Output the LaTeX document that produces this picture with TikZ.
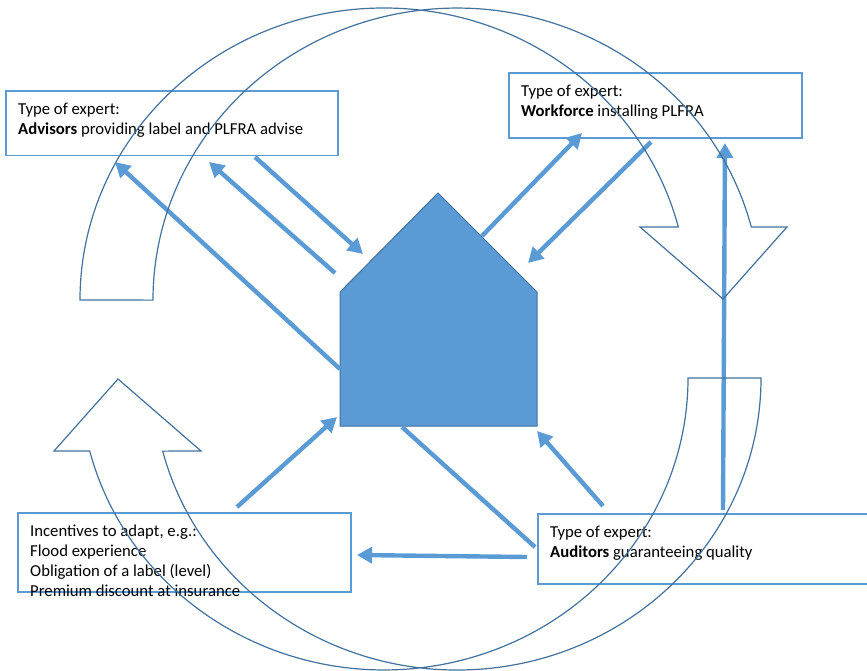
\documentclass[tikz,border=0pt]{standalone}
\usepackage{fontspec}
\setmainfont{Carlito}
\usetikzlibrary{arrows.meta}
\definecolor{flowblue}{HTML}{5B9BD5}
\definecolor{edgeblue}{HTML}{41719C}

\begin{document}
\begin{tikzpicture}[x=1pt, y=1pt]
    \tikzset{expertbox/.style={draw=flowblue, line width=1.8pt, anchor=north west,
            inner sep=0pt, outer sep=0pt},
        expertlabel/.style={anchor=north west, inner sep=0pt, align=left,
            font=\fontsize{16.7}{20}\selectfont},
        flowline/.style={draw=flowblue, line width=4.4pt},
        flowarrow/.style={flowline, -{Triangle[length=15pt, width=16pt]}},
        cyclearrow/.style={draw=edgeblue, line width=1.2pt, line join=miter},
        housebody/.style={draw=edgeblue, fill=flowblue, line width=1pt}
    }
    \useasboundingbox (0,0) rectangle (867,-670);
    % house
    \draw[housebody] (340,-292) -- (438,-193) -- (537,-292) -- (537,-426)
        -- (340,-426) -- cycle;
    % boxes
    \node[expertbox, minimum width=332pt, minimum height=64.5pt] (advisors)
        at (6,-91) {};
    \node[expertbox, minimum width=293pt, minimum height=65pt] (workforce)
        at (509,-73) {};
    \node[expertbox, minimum width=333pt, minimum height=79pt] (incentives)
        at (18,-513) {};
    \node[expertbox, minimum width=340pt, minimum height=70pt] (auditors)
        at (538,-514) {};
    % box texts
    \node[expertlabel] (advisorstext) at ([xshift=12pt, yshift=-12pt]advisors.north west)
        {Type of expert:\\\textbf{Advisors} providing label and PLFRA advise};
    \node[expertlabel] (workforcetext) at ([xshift=12pt, yshift=-12pt]workforce.north west)
        {Type of expert:\\\textbf{Workforce} installing PLFRA};
    \node[expertlabel] (incentivestext) at ([xshift=12pt, yshift=-12pt]incentives.north west)
        {Incentives to adapt, e.g.:\\Flood experience\\Obligation of a label (level)\\Premium discount at insurance};
    \node[expertlabel] (auditorstext) at ([xshift=12pt, yshift=-12pt]auditors.north west)
        {Type of expert:\\\textbf{Auditors} guaranteeing quality};
    % ends of the flows
    \foreach \name/\x/\y in {houseA/340/369, advisorsA/115/162, houseB/335/273,
        advisorsB/209/162, advisorsC/255/157, houseC/363/254, houseD/482/236,
        workforceD/582/133, workforceE/651/142, houseE/528/263, auditorsF/723/510,
        workforceF/725/143, incentivesG/237/507, houseG/337/417, auditorsH/603/506,
        houseH/537/431, auditorsI/535/547, houseI/402/427, auditorsJ/527/557,
        incentivesJ/357/555} {
        \coordinate (\name) at (\x,-\y);
    }
    % flows with a tip
    \foreach \from/\to in {houseA/advisorsA, houseB/advisorsB, advisorsC/houseC,
        houseD/workforceD, workforceE/houseE, auditorsF/workforceF,
        incentivesG/houseG, auditorsH/houseH, auditorsJ/incentivesJ} {
        \draw[flowarrow] (\from) -- (\to);
    }
    % flow without a tip
    \draw[flowline] (auditorsI) -- (houseI);
    % the two big curved arrows
    \foreach \turn in {0,180} {
        \draw[cyclearrow, rotate around={\turn:(420.5,-339)}] (80,-300)
            arc[start angle=180, end angle=14.5, x radius=304pt, y radius=292pt]
            -- (640,-227) -- (723,-299) -- (787,-227) -- (751.3,-227)
            arc[start angle=14.5, end angle=180, x radius=304pt, y radius=292pt]
            -- cycle;
    }
\end{tikzpicture}
\end{document}
